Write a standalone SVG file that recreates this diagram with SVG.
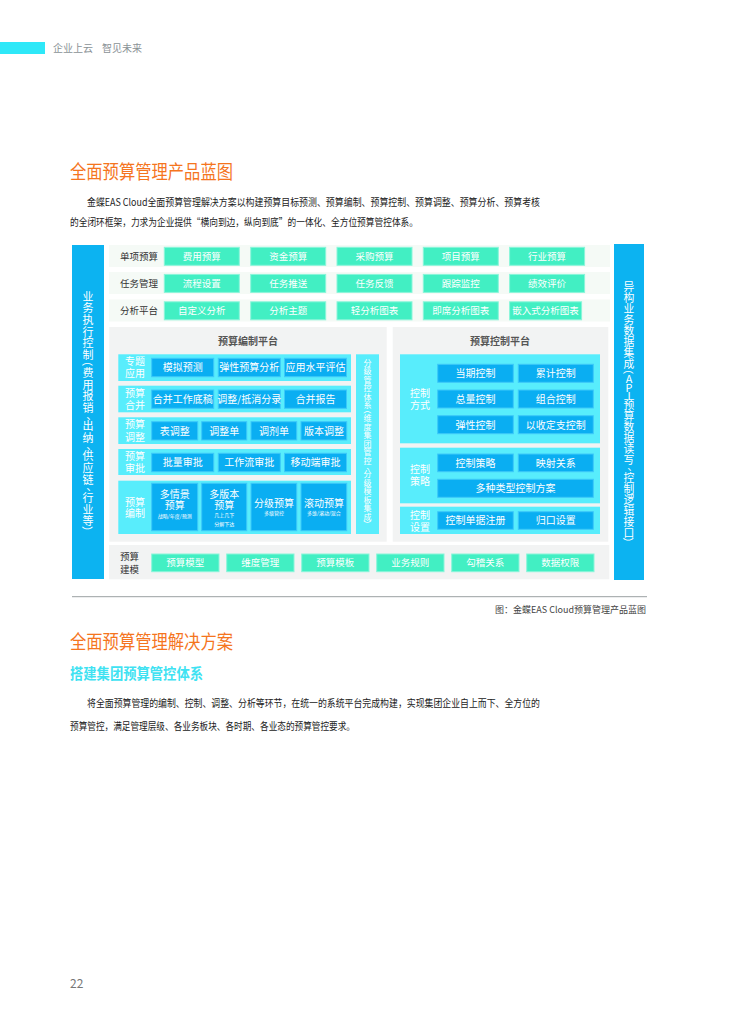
<svg xmlns="http://www.w3.org/2000/svg" width="755" height="1024" viewBox="0 0 755 1024">
<style>
text{font-family:"Noto Sans CJK SC","Noto Sans",sans-serif;}
.para{font-size:10px;fill:#222;}
.h1{font-size:19px;fill:#f5751e;}
.h2{font-size:15px;fill:#3fe2f2;font-weight:bold;}
.band{fill:#f5faf6;}
.gpan{fill:#f2f3f3;}
.green{fill:#42efc3;stroke:#8af5da;stroke-width:1;}
.cyan{fill:#58edfc;}
.blue{fill:#0aaef2;stroke:#3cc9f9;stroke-width:1;}
.bar{fill:#0cb3f1;}
.lbl{font-size:9.5px;fill:#333;}
.wt{font-size:9.5px;fill:#fff;text-anchor:middle;}
.wt2{font-size:10px;fill:#fff;text-anchor:middle;}
.wl{font-size:10px;fill:#fff;}
.sm{font-size:5px;}
.ptitle{font-size:10px;fill:#555;font-weight:bold;text-anchor:middle;}
.vt{fill:#fff;text-anchor:middle;dominant-baseline:central;}
</style>

<!-- header -->
<g id="header">
<rect x="0" y="42" width="45" height="12" fill="#2ee8f8"/>
<text x="53" y="52" style="font-size:10px;fill:#8a9296">企业上云</text>
<text x="102" y="52" style="font-size:10px;fill:#8a9296">智见未来</text>
</g>

<g id="section1">
<text class="h1" x="70" y="179" textLength="163" lengthAdjust="spacingAndGlyphs">全面预算管理产品蓝图</text>
<text class="para" x="87" y="206" textLength="453" lengthAdjust="spacingAndGlyphs">金蝶EAS Cloud全面预算管理解决方案以构建预算目标预测、预算编制、预算控制、预算调整、预算分析、预算考核</text>
<text class="para" x="70" y="226" textLength="348" lengthAdjust="spacingAndGlyphs">的全闭环框架，力求为企业提供“横向到边，纵向到底”的一体化、全方位预算管控体系。</text>
</g>

<!-- side bars -->
<g id="left-bar" style="font-size:11px">
<rect class="bar" x="72" y="245" width="32" height="334"/>
<text class="vt" x="88 88 88 88 88 88 88 88 88 88 91.8 88 88 91.8 88 88 88 91.8 88 88 88" y="295.8 307.4 319 330.6 342.2 353.8 372.2 383.8 395.4 407 413.5 425.4 437 443.5 455.4 467 478.6 485.1 497 508.6 520.2">业务执行控制费用报销、出纳、供应链、行业等</text>
<text class="vt" x="88" y="360.8" transform="rotate(90 88 360.8)">（</text>
<text class="vt" x="88" y="531.6" transform="rotate(90 88 531.6)">）</text>
</g>
<g id="right-bar" style="font-size:10.8px">
<rect class="bar" x="614" y="244" width="30" height="336"/>
<text class="vt" x="629 629 629 629 629 629 629 629 629 629 629 629 629 629 629 629 629 632.7 629 629 629 629 629 629" y="285.5 296.5 307.5 318.5 329.5 340.5 351.5 362.5 378.4 386.6 394.8 404.4 415.4 426.4 437.4 448.4 459.4 465.3 476.7 487.7 498.7 509.7 520.7 531.7">异构业务数据集成API预算数据读写、控制逻辑接口</text>
<text class="vt" x="629" y="369" transform="rotate(90 629 369)">（</text>
<text class="vt" x="629" y="542.6" transform="rotate(90 629 542.6)">）</text>
</g>

<!-- top rows -->
<g id="row-single">
<rect class="band" x="109" y="245" width="501" height="22"/>
<text class="lbl" x="120" y="259.8">单项预算</text>
<rect class="green" x="164.3" y="247.3" width="75" height="18"/><text class="wt" x="201.8" y="259.8">费用预算</text>
<rect class="green" x="250.7" y="247.3" width="75" height="18"/><text class="wt" x="288.2" y="259.8">资金预算</text>
<rect class="green" x="337" y="247.3" width="75" height="18"/><text class="wt" x="374.5" y="259.8">采购预算</text>
<rect class="green" x="423.3" y="247.3" width="75" height="18"/><text class="wt" x="460.8" y="259.8">项目预算</text>
<rect class="green" x="509.6" y="247.3" width="75" height="18"/><text class="wt" x="547.1" y="259.8">行业预算</text>
</g>
<g id="row-task">
<rect class="band" x="109" y="272" width="501" height="22"/>
<text class="lbl" x="120" y="287">任务管理</text>
<rect class="green" x="164.3" y="274.4" width="75" height="18"/><text class="wt" x="201.8" y="287">流程设置</text>
<rect class="green" x="250.7" y="274.4" width="75" height="18"/><text class="wt" x="288.2" y="287">任务推送</text>
<rect class="green" x="337" y="274.4" width="75" height="18"/><text class="wt" x="374.5" y="287">任务反馈</text>
<rect class="green" x="423.3" y="274.4" width="75" height="18"/><text class="wt" x="460.8" y="287">跟踪监控</text>
<rect class="green" x="509.6" y="274.4" width="75" height="18"/><text class="wt" x="547.1" y="287">绩效评价</text>
</g>
<g id="row-analysis">
<rect class="band" x="109" y="299.5" width="501" height="22"/>
<text class="lbl" x="120" y="314.4">分析平台</text>
<rect class="green" x="164.3" y="301.8" width="75" height="18"/><text class="wt" x="201.8" y="314.4">自定义分析</text>
<rect class="green" x="250.7" y="301.8" width="75" height="18"/><text class="wt" x="288.2" y="314.4">分析主题</text>
<rect class="green" x="337" y="301.8" width="75" height="18"/><text class="wt" x="374.5" y="314.4">轻分析图表</text>
<rect class="green" x="423.3" y="301.8" width="75" height="18"/><text class="wt" x="460.8" y="314.4">即席分析图表</text>
<rect class="green" x="509.6" y="301.8" width="72" height="18"/><text class="wt" x="545.6" y="314.4">嵌入式分析图表</text>
</g>

<!-- budget compilation platform -->
<g id="compile-platform">
<rect class="gpan" x="109.3" y="327" width="277.4" height="214.7"/>
<text class="ptitle" x="248" y="344.8">预算编制平台</text>

<rect class="cyan" x="118.3" y="354.3" width="232.7" height="26.7"/>
<text class="wl" x="125" y="364.8">专题<tspan x="125" y="377.1">应用</tspan></text>
<rect class="blue" x="151.7" y="358.3" width="62" height="18.4"/><text class="wt2" x="182.7" y="371.3">模拟预测</text>
<rect class="blue" x="218.3" y="358.3" width="62" height="18.4"/><text class="wt2" x="249.3" y="371.3">弹性预算分析</text>
<rect class="blue" x="284.5" y="358.3" width="62" height="18.4"/><text class="wt2" x="315.5" y="371.3">应用水平评估</text>

<rect class="cyan" x="118.3" y="385.7" width="232.7" height="26.6"/>
<text class="wl" x="125" y="396.6">预算<tspan x="125" y="409">合并</tspan></text>
<rect class="blue" x="151.7" y="390" width="62" height="18.3"/><text class="wt2" x="182.7" y="403">合并工作底稿</text>
<rect class="blue" x="218.3" y="390" width="62" height="18.3"/><text class="wt2" x="249.3" y="403">调整/抵消分录</text>
<rect class="blue" x="284.5" y="390" width="62" height="18.3"/><text class="wt2" x="315.5" y="403">合并报告</text>

<rect class="cyan" x="118.3" y="417.3" width="232.7" height="26.7"/>
<text class="wl" x="125" y="428.3">预算<tspan x="125" y="440.6">调整</tspan></text>
<rect class="blue" x="151.7" y="421.7" width="46" height="18.3"/><text class="wt2" x="174.7" y="434.7">表调整</text>
<rect class="blue" x="201.7" y="421.7" width="45" height="18.3"/><text class="wt2" x="224.2" y="434.7">调整单</text>
<rect class="blue" x="251" y="421.7" width="45.7" height="18.3"/><text class="wt2" x="273.9" y="434.7">调剂单</text>
<rect class="blue" x="301" y="421.7" width="45.7" height="18.3"/><text class="wt2" x="323.9" y="434.7">版本调整</text>

<rect class="cyan" x="118.3" y="449" width="232.7" height="26"/>
<text class="wl" x="125" y="459.7">预算<tspan x="125" y="472">审批</tspan></text>
<rect class="blue" x="151.7" y="453.3" width="62" height="18.4"/><text class="wt2" x="182.7" y="466.3">批量审批</text>
<rect class="blue" x="218.3" y="453.3" width="62" height="18.4"/><text class="wt2" x="249.3" y="466.3">工作流审批</text>
<rect class="blue" x="284.5" y="453.3" width="62" height="18.4"/><text class="wt2" x="315.5" y="466.3">移动端审批</text>

<rect class="cyan" x="118.3" y="480.7" width="232.7" height="53.3"/>
<text class="wl" x="125" y="505.5">预算<tspan x="125" y="516.5">编制</tspan></text>
<rect class="blue" x="151.7" y="483.3" width="46" height="47.4"/>
<text class="wt2" x="174.7" y="497.8">多情景<tspan x="174.7" y="508.6">预算</tspan><tspan class="sm" x="174.7" y="517.6">战略/年度/预测</tspan></text>
<rect class="blue" x="201.7" y="483.3" width="45" height="47.4"/>
<text class="wt2" x="224.2" y="497.8">多版本<tspan x="224.2" y="508.6">预算</tspan><tspan class="sm" x="224.2" y="516.9">几上几下</tspan><tspan class="sm" x="224.2" y="525.5">分解下达</tspan></text>
<rect class="blue" x="251" y="483.3" width="45.7" height="47.4"/>
<text class="wt2" x="273.9" y="507">分级预算<tspan class="sm" x="273.9" y="515.4">多级管控</tspan></text>
<rect class="blue" x="301" y="483.3" width="45.7" height="47.4"/>
<text class="wt2" x="323.9" y="507">滚动预算<tspan class="sm" x="323.9" y="515.4">多维/滚动/混合</tspan></text>

<g id="mgmt-strip" style="font-size:8px">
<rect class="cyan" x="356" y="354.3" width="23" height="179.7"/>
<text class="vt" x="367.5 367.5 367.5 367.5 367.5 367.5 367.5 367.5 367.5 367.5 367.5 367.5 370.3 367.5 367.5 367.5 367.5 367.5 367.5" y="362.3 370.8 379.3 387.8 396.3 404.8 417.9 426.4 434.9 443.4 451.9 460.4 465 473.6 482.1 490.6 499.1 507.6 516.1">分级管控体系维度集团管控、分级模板集成</text>
<text class="vt" x="367.5" y="409.7" transform="rotate(90 367.5 409.7)">（</text>
<text class="vt" x="367.5" y="524.3" transform="rotate(90 367.5 524.3)">）</text>
</g>
</g>

<!-- budget control platform -->
<g id="control-platform">
<rect class="gpan" x="392.7" y="327" width="215.6" height="214.7"/>
<text class="ptitle" x="500" y="344.8">预算控制平台</text>

<rect class="cyan" x="400" y="354.3" width="200" height="89"/>
<text class="wl" x="410" y="397">控制<tspan x="410" y="408.8">方式</tspan></text>
<rect class="blue" x="437.7" y="364.3" width="75.6" height="18"/><text class="wt2" x="475.5" y="377.1">当期控制</text>
<rect class="blue" x="518.3" y="364.3" width="75" height="18"/><text class="wt2" x="555.8" y="377.1">累计控制</text>
<rect class="blue" x="437.7" y="390" width="75.6" height="18"/><text class="wt2" x="475.5" y="402.8">总量控制</text>
<rect class="blue" x="518.3" y="390" width="75" height="18"/><text class="wt2" x="555.8" y="402.8">组合控制</text>
<rect class="blue" x="437.7" y="415.7" width="75.6" height="18"/><text class="wt2" x="475.5" y="428.5">弹性控制</text>
<rect class="blue" x="518.3" y="415.7" width="75" height="18"/><text class="wt2" x="555.8" y="428.5">以收定支控制</text>

<rect class="cyan" x="400" y="447.7" width="200" height="55.6"/>
<text class="wl" x="410" y="472.8">控制<tspan x="410" y="484.5">策略</tspan></text>
<rect class="blue" x="437.7" y="454" width="75.6" height="17.7"/><text class="wt2" x="475.5" y="466.7">控制策略</text>
<rect class="blue" x="518.3" y="454" width="75" height="17.7"/><text class="wt2" x="555.8" y="466.7">映射关系</text>
<rect class="blue" x="437.7" y="479.3" width="155.6" height="18"/><text class="wt2" x="515.5" y="492.1">多种类型控制方案</text>

<rect class="cyan" x="400" y="506.7" width="200" height="27.3"/>
<text class="wl" x="410" y="518.8">控制<tspan x="410" y="530.5">设置</tspan></text>
<rect class="blue" x="437.7" y="511.7" width="75.6" height="17.6"/><text class="wt2" x="475.5" y="524.3">控制单据注册</text>
<rect class="blue" x="518.3" y="511.7" width="75" height="17.6"/><text class="wt2" x="555.8" y="524.3">归口设置</text>
</g>

<!-- modeling row -->
<g id="row-modeling">
<rect class="gpan" x="109" y="545" width="500.3" height="34.3"/>
<text class="lbl" x="120" y="560.3">预算<tspan x="120" y="572.9">建模</tspan></text>
<rect class="green" x="151.7" y="554" width="67.3" height="17.7"/><text class="wt" x="185.3" y="566.4">预算模型</text>
<rect class="green" x="226.7" y="554" width="67.3" height="17.7"/><text class="wt" x="260.3" y="566.4">维度管理</text>
<rect class="green" x="301.7" y="554" width="67.3" height="17.7"/><text class="wt" x="335.3" y="566.4">预算模板</text>
<rect class="green" x="376.7" y="554" width="67.3" height="17.7"/><text class="wt" x="410.3" y="566.4">业务规则</text>
<rect class="green" x="451.7" y="554" width="67.3" height="17.7"/><text class="wt" x="485.3" y="566.4">勾稽关系</text>
<rect class="green" x="526.7" y="554" width="67.3" height="17.7"/><text class="wt" x="560.3" y="566.4">数据权限</text>
</g>

<g id="connectors"></g>

<g id="caption">
<line x1="72" y1="596.7" x2="647" y2="596.7" stroke="#9aa0a2" stroke-width="1"/>
<text x="646" y="612.6" style="font-size:9px;fill:#444;text-anchor:end">图：金蝶EAS Cloud预算管理产品蓝图</text>
</g>

<g id="section2">
<text class="h1" x="70" y="648.5" textLength="163" lengthAdjust="spacingAndGlyphs">全面预算管理解决方案</text>
<text class="h2" x="70" y="679" textLength="133" lengthAdjust="spacingAndGlyphs">搭建集团预算管控体系</text>
<text class="para" x="87" y="706.5" textLength="453" lengthAdjust="spacingAndGlyphs">将全面预算管理的编制、控制、调整、分析等环节，在统一的系统平台完成构建，实现集团企业自上而下、全方位的</text>
<text class="para" x="70" y="729.8" textLength="285" lengthAdjust="spacingAndGlyphs">预算管控，满足管理层级、各业务板块、各时期、各业态的预算管控要求。</text>
</g>

<text x="70" y="988" style="font-size:12px;fill:#777">22</text>
</svg>
